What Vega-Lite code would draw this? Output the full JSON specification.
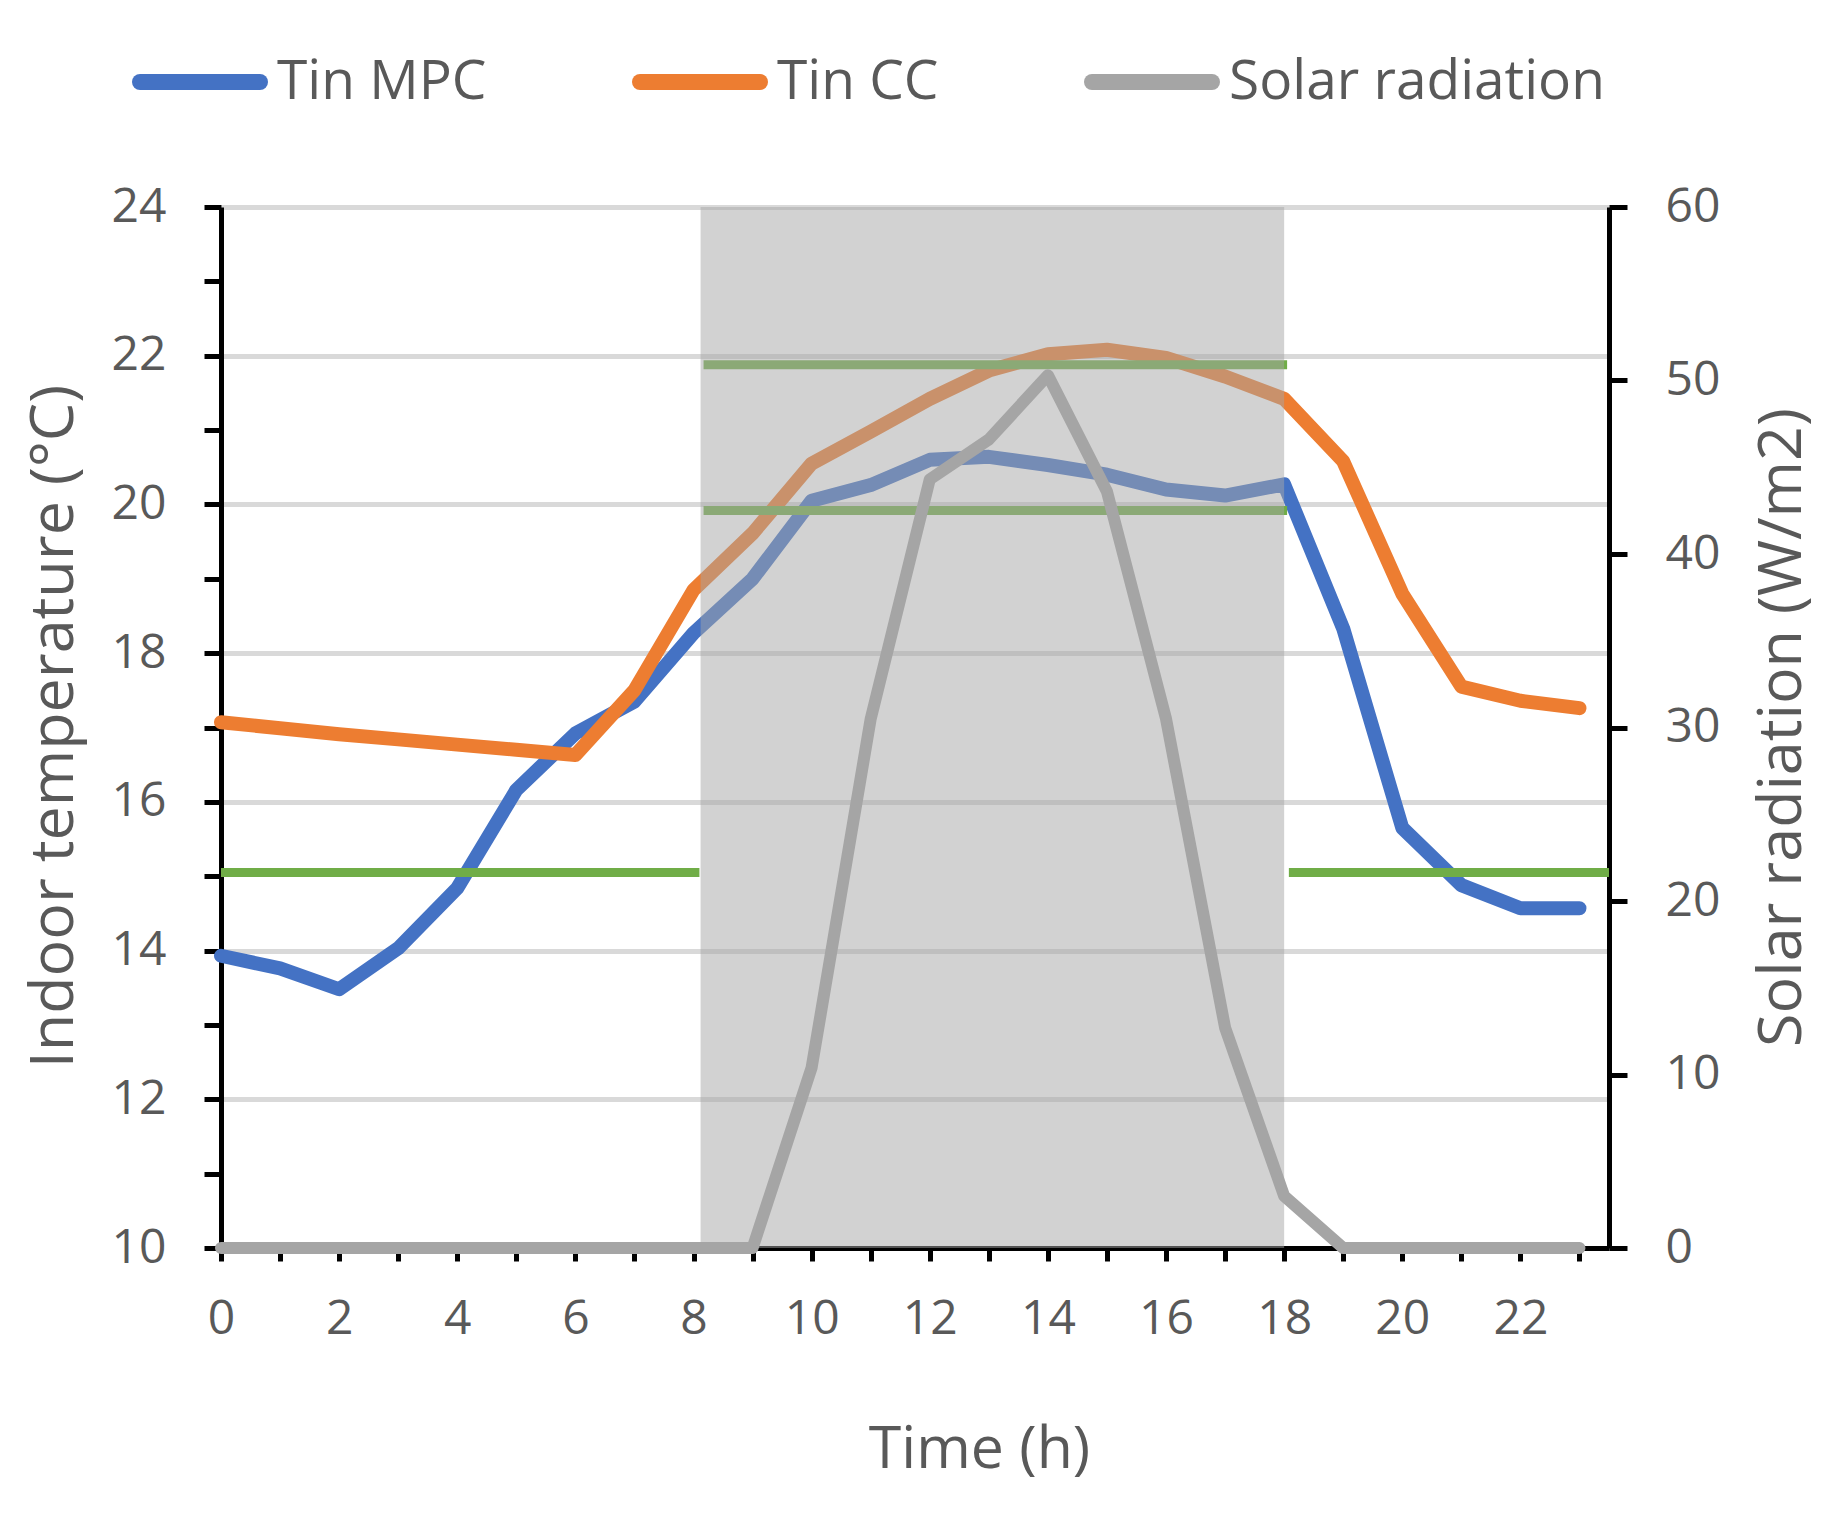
{
  "$schema": "https://vega.github.io/schema/vega-lite/v6.json",
  "width": 1388,
  "height": 1041,
  "autosize": "none",
  "padding": {"left": 221, "top": 207, "right": 237, "bottom": 286},
  "background": "white",
  "config": {
    "font": "Open Sans",
    "view": {"stroke": null},
    "axis": {
      "labelFont": "Open Sans",
      "titleFont": "Open Sans",
      "labelColor": "#595959",
      "titleColor": "#595959",
      "labelFontSize": 48,
      "titleFontSize": 59,
      "titleFontWeight": "normal",
      "domainColor": "black",
      "domainWidth": 5,
      "tickColor": "black",
      "tickWidth": 5,
      "gridColor": "#D9D9D9",
      "gridWidth": 5
    }
  },
  "datasets": {
    "temp": [
      {"h": 0, "series": "Tin MPC", "temp": 13.93},
      {"h": 1, "series": "Tin MPC", "temp": 13.76},
      {"h": 2, "series": "Tin MPC", "temp": 13.48},
      {"h": 3, "series": "Tin MPC", "temp": 14.03},
      {"h": 4, "series": "Tin MPC", "temp": 14.84},
      {"h": 5, "series": "Tin MPC", "temp": 16.16},
      {"h": 6, "series": "Tin MPC", "temp": 16.92},
      {"h": 7, "series": "Tin MPC", "temp": 17.35},
      {"h": 8, "series": "Tin MPC", "temp": 18.27},
      {"h": 9, "series": "Tin MPC", "temp": 19.0},
      {"h": 10, "series": "Tin MPC", "temp": 20.05},
      {"h": 11, "series": "Tin MPC", "temp": 20.26},
      {"h": 12, "series": "Tin MPC", "temp": 20.6},
      {"h": 13, "series": "Tin MPC", "temp": 20.64},
      {"h": 14, "series": "Tin MPC", "temp": 20.53},
      {"h": 15, "series": "Tin MPC", "temp": 20.4},
      {"h": 16, "series": "Tin MPC", "temp": 20.2},
      {"h": 17, "series": "Tin MPC", "temp": 20.12},
      {"h": 18, "series": "Tin MPC", "temp": 20.27},
      {"h": 19, "series": "Tin MPC", "temp": 18.33},
      {"h": 20, "series": "Tin MPC", "temp": 15.65},
      {"h": 21, "series": "Tin MPC", "temp": 14.88},
      {"h": 22, "series": "Tin MPC", "temp": 14.57},
      {"h": 23, "series": "Tin MPC", "temp": 14.57},
      {"h": 0, "series": "Tin CC", "temp": 17.07},
      {"h": 1, "series": "Tin CC", "temp": 16.99},
      {"h": 2, "series": "Tin CC", "temp": 16.91},
      {"h": 3, "series": "Tin CC", "temp": 16.84},
      {"h": 4, "series": "Tin CC", "temp": 16.77},
      {"h": 5, "series": "Tin CC", "temp": 16.7},
      {"h": 6, "series": "Tin CC", "temp": 16.63},
      {"h": 7, "series": "Tin CC", "temp": 17.5},
      {"h": 8, "series": "Tin CC", "temp": 18.85},
      {"h": 9, "series": "Tin CC", "temp": 19.61},
      {"h": 10, "series": "Tin CC", "temp": 20.55},
      {"h": 11, "series": "Tin CC", "temp": 20.98},
      {"h": 12, "series": "Tin CC", "temp": 21.42},
      {"h": 13, "series": "Tin CC", "temp": 21.8},
      {"h": 14, "series": "Tin CC", "temp": 22.02},
      {"h": 15, "series": "Tin CC", "temp": 22.08},
      {"h": 16, "series": "Tin CC", "temp": 21.97},
      {"h": 17, "series": "Tin CC", "temp": 21.72},
      {"h": 18, "series": "Tin CC", "temp": 21.42},
      {"h": 19, "series": "Tin CC", "temp": 20.58},
      {"h": 20, "series": "Tin CC", "temp": 18.8},
      {"h": 21, "series": "Tin CC", "temp": 17.55},
      {"h": 22, "series": "Tin CC", "temp": 17.36},
      {"h": 23, "series": "Tin CC", "temp": 17.26}
    ],
    "solar": [
      {"h": 0, "solar": 0}, {"h": 1, "solar": 0}, {"h": 2, "solar": 0}, {"h": 3, "solar": 0},
      {"h": 4, "solar": 0}, {"h": 5, "solar": 0}, {"h": 6, "solar": 0}, {"h": 7, "solar": 0},
      {"h": 8, "solar": 0}, {"h": 9, "solar": 0}, {"h": 10, "solar": 10.4}, {"h": 11, "solar": 30.5},
      {"h": 12, "solar": 44.3}, {"h": 13, "solar": 46.6}, {"h": 14, "solar": 50.3}, {"h": 15, "solar": 43.6},
      {"h": 16, "solar": 30.5}, {"h": 17, "solar": 12.7}, {"h": 18, "solar": 3.0}, {"h": 19, "solar": 0},
      {"h": 20, "solar": 0}, {"h": 21, "solar": 0}, {"h": 22, "solar": 0}, {"h": 23, "solar": 0}
    ],
    "limits": [
      {"from": 0, "to": 8.1, "level": 15.05},
      {"from": 18.08, "to": 23.5, "level": 15.05},
      {"from": 8.17, "to": 18.05, "level": 21.88},
      {"from": 8.17, "to": 18.05, "level": 19.92}
    ],
    "period": [
      {"start": 8.12, "end": 18}
    ]
  },
  "layer": [
    {
      "layer": [
        {
          "data": {"name": "temp"},
          "transform": [{"filter": "datum.series === 'Tin MPC'"}],
          "mark": {"type": "line", "strokeWidth": 14, "strokeCap": "round", "strokeJoin": "round"},
          "encoding": {
            "x": {
              "field": "h", "type": "quantitative",
              "scale": {"domain": [0, 23.5], "nice": false, "zero": false},
              "axis": {
                "title": "Time (h)",
                "values": [0,1,2,3,4,5,6,7,8,9,10,11,12,13,14,15,16,17,18,19,20,21,22,23],
                "format": "d",
                "labelExpr": "datum.value % 2 === 0 ? datum.label : ''",
                "grid": false,
                "tickSize": 13,
                "labelPadding": 72,
                "labelBaseline": "alphabetic",
                "labelFlush": false,
                "labelOverlap": false,
                "titleX": 758,
                "titleY": 219,
                "titleBaseline": "alphabetic",
                "titleAlign": "center"
              }
            },
            "y": {
              "field": "temp", "type": "quantitative",
              "scale": {"domain": [10, 24], "nice": false, "zero": false},
              "axis": {
                "title": "Indoor temperature (°C)",
                "orient": "left",
                "values": [10,11,12,13,14,15,16,17,18,19,20,21,22,23,24],
                "format": "d",
                "labelExpr": "datum.value % 2 === 0 ? datum.label : ''",
                "grid": true,
                "gridOpacity": {"condition": {"test": "datum.value % 2 === 0", "value": 1}, "value": 0},
                "tickSize": 17,
                "labelPadding": 38,
                "labelFlush": false,
                "labelOverlap": false,
                "titleFontSize": 61,
                "titleAngle": 270,
                "titleX": -149,
                "titleY": 519,
                "titleBaseline": "alphabetic",
                "titleAlign": "center"
              }
            },
            "color": {
              "field": "series", "type": "nominal",
              "scale": {"domain": ["Tin MPC", "Tin CC", "Solar radiation"], "range": ["#4472C4", "#ED7D31", "#A5A5A5"]},
              "legend": {
                "title": null,
                "orient": "none",
                "direction": "horizontal",
                "legendX": -89,
                "legendY": -193,
                "symbolType": "stroke",
                "symbolSize": 14400,
                "symbolStrokeWidth": 16,
                "labelFont": "Open Sans",
                "labelFontSize": 55,
                "labelColor": "#595959",
                "labelOffset": 9,
                "columnPadding": 121,
                "labelLimit": 1000,
                "encode": {"symbols": {"update": {"strokeCap": {"value": "round"}}}}
              }
            }
          }
        },
        {
          "data": {"name": "temp"},
          "transform": [{"filter": "datum.series === 'Tin CC'"}],
          "mark": {"type": "line", "strokeWidth": 14, "strokeCap": "round", "strokeJoin": "round"},
          "encoding": {
            "x": {"field": "h", "type": "quantitative"},
            "y": {"field": "temp", "type": "quantitative"},
            "color": {"field": "series", "type": "nominal"}
          }
        },
        {
          "data": {"name": "limits"},
          "mark": {"type": "rule", "color": "#70AD47", "strokeWidth": 9},
          "encoding": {
            "x": {"field": "from", "type": "quantitative"},
            "x2": {"field": "to"},
            "y": {"field": "level", "type": "quantitative"}
          }
        },
        {
          "data": {"name": "period"},
          "mark": {"type": "rect", "color": "#A5A5A5", "opacity": 0.5},
          "encoding": {
            "x": {"field": "start", "type": "quantitative"},
            "x2": {"field": "end"},
            "y": {"datum": 24},
            "y2": {"datum": 10}
          }
        }
      ]
    },
    {
      "data": {"name": "solar"},
      "mark": {"type": "line", "strokeWidth": 12, "strokeCap": "round", "strokeJoin": "round"},
      "encoding": {
        "x": {"field": "h", "type": "quantitative"},
        "y": {
          "field": "solar", "type": "quantitative",
          "scale": {"domain": [0, 60], "nice": false},
          "axis": {
            "title": "Solar radiation  (W/m2)",
            "orient": "right",
            "values": [0, 10, 20, 30, 40, 50, 60],
            "format": "d",
            "grid": false,
            "tickSize": 18,
            "labelPadding": 38,
            "labelFlush": false,
            "labelOverlap": false,
            "titleFontSize": 61,
            "titleAngle": 270,
            "titleX": 191,
            "titleY": 520,
            "titleBaseline": "alphabetic",
            "titleAlign": "center"
          }
        },
        "color": {"datum": "Solar radiation"}
      }
    }
  ],
  "resolve": {"scale": {"y": "independent"}}
}
